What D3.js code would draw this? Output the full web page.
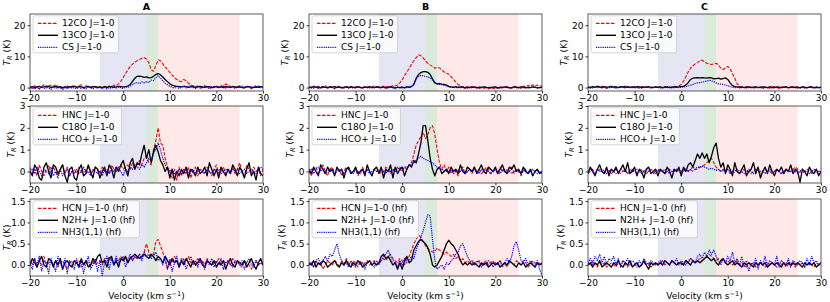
<!DOCTYPE html>
<html lang="en">
<head>
<meta charset="UTF-8">
<title>Spectra A B C</title>
<script src="https://d3js.org/d3.v7.min.js"></script>
<style>
  body { margin: 0; background: #fff; }
  svg { display: block; }
  svg text { font-family: "DejaVu Sans"; }
  .tick text { font-size: 9px; fill: #000; }
  .tick line { stroke: #000; stroke-width: 0.8; }
  .leg text { font-size: 9px; fill: #000; }
</style>
</head>
<body>
<svg id="chart" width="830" height="302"></svg>
<script>
// channel grid (km/s), 0.5 km/s spacing
const velocity = d3.range(-20, 30.25, 0.5);

const columns = ["A", "B", "C"];
const legendLabels = [
  ["12CO J=1-0", "13CO J=1-0", "CS J=1-0"],
  ["HNC J=1-0", "C18O J=1-0", "HCO+ J=1-0"],
  ["HCN J=1-0 (hf)", "N2H+ J=1-0 (hf)", "NH3(1,1) (hf)"]
];
const xTicks = [-20, -10, 0, 10, 20, 30];
const yTicks = [[0, 10, 20], [0, 1, 2, 3], [0, 0.5, 1, 1.5]];
const yDomains = [[-1.1, 23.6], [-0.53, 3.0], [-0.26, 1.55]];
const bands = [[-5, 5], [5, 7.5], [7.5, 25]];

// ---- column A ----
const a12co = [
  0.2,-0.3,0.6,0.1,-0.4,0.3,0.9,-0.2,0.5,0.8,
  0.4,1.0,-0.2,0.3,-0.5,0.2,0.6,-0.3,0.4,0.7,
  0.1,0.5,0.9,-0.2,0.6,0.3,-0.1,0.4,0.2,0.0,
  0.3,-0.2,0.4,0.1,0.5,0.2,0.8,0.6,1.2,2.0,
  3.2,4.5,5.6,6.8,7.5,8.2,8.6,9.0,9.4,9.6,
  9.2,8.0,5.8,5.2,7.0,8.9,8.6,7.6,6.6,5.8,
  4.9,4.0,3.2,2.6,2.1,1.9,2.6,2.2,1.4,0.8,
  0.6,0.3,0.5,-0.2,0.2,0.6,0.1,0.4,-0.3,0.2,
  0.5,0.0,0.7,0.3,1.1,0.9,0.2,0.5,-0.1,0.3,
  0.6,0.1,-0.3,0.4,0.2,-0.4,0.3,0.0,0.5,-0.2,
  0.1];
const a13co = [
  0.1,0.3,0.0,0.2,0.4,0.1,0.2,0.5,0.3,0.1,
  0.2,0.4,0.1,0.3,0.0,0.2,0.1,0.3,0.2,0.4,
  0.1,0.3,0.2,0.0,0.2,0.4,0.1,0.2,0.3,0.1,
  0.2,0.0,0.3,0.1,0.2,0.3,0.1,0.2,0.4,0.3,
  0.2,0.3,0.5,1.0,2.0,3.0,3.6,3.7,3.5,3.3,
  3.4,3.1,3.2,3.6,4.2,4.5,4.1,3.4,2.6,1.9,
  1.2,0.8,0.5,0.4,0.3,0.2,0.4,0.3,0.1,0.2,
  0.3,0.1,0.2,0.4,0.2,0.1,0.3,0.2,0.0,0.2,
  0.3,0.1,0.2,0.0,0.3,0.2,0.1,0.3,0.2,0.1,
  0.2,0.0,0.1,0.3,0.2,0.1,0.0,0.2,0.1,0.3,
  0.2];
const acs = [
  -0.2,0.3,-0.5,0.1,-0.4,0.2,-0.3,0.4,-0.1,-0.6,
  0.2,-0.3,0.5,-0.2,-0.6,0.1,-0.4,0.3,-0.2,0.0,
  -0.4,0.2,-0.3,0.1,-0.5,0.3,-0.1,-0.4,0.2,-0.2,
  0.1,-0.3,0.2,-0.4,0.0,-0.2,0.3,-0.1,0.2,0.0,
  -0.3,0.2,0.1,0.5,1.0,1.4,1.6,1.3,1.8,1.5,
  1.9,1.6,2.4,2.2,3.2,3.8,3.1,2.2,1.4,0.9,
  0.4,0.1,-0.2,0.3,-0.3,0.2,0.5,-0.1,0.3,0.6,
  0.1,-0.3,0.4,0.0,-0.2,0.5,0.2,-0.4,0.3,0.1,
  0.4,-0.1,0.2,0.5,-0.2,0.3,0.0,0.4,-0.3,0.2,
  0.1,0.5,-0.2,0.3,0.4,-0.1,0.2,0.6,0.0,0.3,
  0.1];
const ahnc = [
  0.2,-0.1,0.1,-0.2,0.3,0.0,-0.2,0.1,0.3,-0.1,
  0.2,0.0,-0.2,0.1,0.3,-0.1,0.2,-0.2,0.0,0.1,
  -0.1,0.2,0.0,-0.2,0.1,0.2,-0.1,0.0,0.2,0.1,
  -0.1,0.2,0.0,0.1,-0.1,0.3,0.1,0.0,0.2,0.3,
  0.1,0.2,0.3,0.1,0.4,0.2,0.3,0.5,0.3,0.6,
  0.7,0.4,0.3,1.0,1.4,2.0,1.3,1.2,0.6,0.2,
  0.0,-0.3,0.1,-0.4,0.2,-0.2,0.1,-0.1,0.2,-0.3,
  0.0,0.2,-0.2,0.1,0.0,-0.1,0.2,0.0,-0.2,0.1,
  0.3,-0.1,0.0,0.2,-0.1,0.1,0.0,0.2,-0.1,0.1,
  0.4,0.0,-0.2,0.3,0.1,-0.1,0.2,0.0,0.1,-0.2,
  0.1];
const ac18o = [
  0.0,-0.2,0.3,0.1,-0.3,-0.4,0.2,0.4,0.0,-0.3,
  0.3,0.2,-0.1,0.1,0.3,-0.2,-0.5,0.1,0.2,-0.3,
  -0.4,0.1,0.3,-0.2,-0.1,0.3,0.0,-0.3,0.2,0.1,
  -0.3,0.0,0.2,-0.2,0.3,0.1,-0.3,0.2,0.0,0.3,
  0.5,0.1,-0.2,0.4,0.6,0.1,0.4,0.3,0.8,1.2,
  0.6,1.0,0.4,0.9,1.2,0.9,0.5,0.3,0.0,0.2,
  -0.3,0.1,-0.4,0.0,-0.2,0.1,-0.1,0.2,-0.3,0.1,
  0.0,-0.2,0.2,-0.1,0.0,0.2,-0.2,0.4,0.1,-0.2,
  0.1,-0.3,0.2,0.0,-0.2,0.1,-0.1,0.3,0.1,-0.2,
  0.2,0.0,-0.3,0.1,0.4,-0.2,0.0,-0.4,0.2,-0.1,
  -0.2];
const ahcop = [
  0.0,0.1,-0.1,0.2,0.0,-0.2,0.1,0.0,-0.1,0.2,
  -0.2,0.0,-0.3,0.1,-0.2,0.0,0.1,-0.2,0.0,-0.1,
  0.1,-0.1,0.0,0.2,-0.1,0.0,-0.2,0.1,0.0,-0.1,
  0.0,-0.2,0.1,0.0,-0.1,0.1,0.0,0.2,0.1,0.0,
  -0.2,0.1,0.0,0.2,0.1,0.3,0.2,0.1,0.3,0.2,
  0.4,0.6,0.5,0.8,1.0,1.3,1.0,0.6,0.3,0.1,
  0.0,0.1,-0.1,0.0,0.1,-0.1,0.0,0.1,-0.1,0.0,
  0.1,-0.1,0.0,0.1,0.0,-0.1,0.1,0.0,-0.1,0.1,
  0.0,0.1,-0.1,0.0,0.1,0.0,-0.1,0.1,0.0,0.1,
  -0.1,0.0,0.1,-0.1,0.0,0.1,0.0,-0.1,0.1,0.2,
  0.1];
const ahcn = [
  0.1,0.0,0.15,-0.05,0.1,0.0,0.2,-0.05,0.05,0.1,
  0.0,0.1,-0.05,0.05,0.1,0.0,-0.1,0.05,0.1,0.0,
  0.05,0.1,-0.05,0.0,0.1,0.05,-0.05,0.1,0.0,0.05,
  0.1,0.0,0.15,0.05,0.2,0.1,0.05,0.15,0.1,0.2,
  0.1,0.15,0.05,0.2,0.1,0.2,0.15,0.25,0.2,0.3,
  0.5,0.3,0.2,0.25,0.55,0.6,0.45,0.3,0.1,-0.1,
  0.15,0.05,0.2,0.1,0.0,0.15,0.05,0.1,0.2,0.05,
  0.1,0.0,0.15,0.05,0.1,0.0,0.15,0.05,0.0,0.1,
  0.05,0.15,0.0,0.1,0.05,0.1,0.0,0.15,0.05,0.1,
  0.0,-0.05,0.1,0.05,0.0,-0.1,0.05,0.1,0.0,0.05,
  0.0];
const an2hp = [
  0.0,0.15,0.05,-0.05,0.1,0.2,0.0,-0.05,0.15,0.1,
  -0.05,0.1,0.0,0.15,-0.1,0.05,0.1,0.0,-0.05,0.1,
  0.05,-0.05,0.15,0.0,0.1,-0.05,0.0,0.15,0.05,0.2,
  0.25,0.05,0.1,-0.05,0.15,0.2,0.0,0.1,-0.05,0.15,
  0.1,0.2,0.05,0.15,0.2,0.25,0.2,0.15,0.2,0.25,
  0.2,0.15,0.25,0.2,0.1,0.2,0.15,0.05,0.2,0.1,
  0.0,0.15,0.05,0.1,-0.05,0.1,0.0,0.15,0.05,-0.05,
  0.1,0.0,0.05,0.15,0.0,-0.05,0.1,0.05,0.0,0.1,
  -0.05,0.05,0.0,0.1,-0.1,0.05,0.15,0.0,-0.05,0.1,
  0.05,0.0,0.1,-0.05,0.05,0.15,0.0,-0.1,0.05,0.15,
  0.0];
const anh3 = [
  0.05,-0.1,0.15,0.0,0.2,-0.15,0.1,0.05,-0.2,0.15,
  0.0,-0.15,0.2,0.05,-0.1,0.15,-0.2,0.1,0.0,-0.1,
  0.15,-0.05,0.1,-0.2,0.05,0.2,-0.1,0.0,0.15,-0.15,
  0.1,-0.25,0.05,0.2,-0.1,0.15,0.0,0.2,0.05,0.1,
  0.2,-0.05,0.15,0.25,0.1,0.2,0.15,0.25,0.1,0.3,
  0.2,0.25,0.15,0.2,0.3,0.1,0.15,0.0,0.2,-0.1,
  0.1,-0.15,0.05,0.2,-0.05,0.1,0.15,-0.1,0.05,0.2,
  0.0,0.1,-0.05,0.15,0.05,-0.1,0.1,0.0,0.15,-0.05,
  0.1,0.0,0.15,-0.1,0.05,0.1,0.0,-0.05,0.1,0.05,
  0.0,0.1,-0.1,0.05,0.15,0.0,-0.05,0.1,0.0,0.05,
  0.0];

// ---- column B ----
const b12co = [
  0.3,-0.2,0.5,0.1,-0.3,0.4,0.0,0.6,-0.1,0.3,
  0.2,-0.4,0.5,0.1,0.3,-0.2,0.4,0.0,0.3,-0.3,
  0.2,0.5,-0.1,0.3,0.0,0.4,-0.2,0.2,0.5,0.1,
  0.3,0.0,0.5,0.2,0.4,0.3,0.6,0.5,0.8,1.5,
  2.5,3.8,5.0,6.2,7.5,8.6,9.6,10.5,10.2,9.5,
  8.6,7.8,7.2,6.8,6.2,6.5,6.3,5.6,5.0,4.6,
  4.3,3.5,2.6,1.8,1.0,0.5,0.2,0.4,-0.2,0.1,
  0.3,-0.1,0.2,-0.3,0.1,-0.2,0.0,-0.4,0.2,-0.2,
  -0.5,0.1,-0.3,0.2,-0.1,0.3,0.0,-0.2,0.4,0.1,
  0.2,-0.3,0.5,0.2,0.7,0.3,0.9,0.5,0.8,0.4,
  0.6];
const b13co = [
  0.2,0.0,0.3,0.1,0.2,-0.1,0.3,0.1,0.0,0.2,
  0.1,0.3,0.0,0.2,-0.1,0.1,0.2,0.0,0.3,0.1,
  0.0,0.2,0.1,-0.1,0.2,0.0,0.3,0.1,0.0,0.2,
  0.1,0.0,0.2,-0.1,0.1,0.2,0.0,-0.2,0.1,0.0,
  0.1,-0.1,0.2,0.1,0.3,1.0,3.0,4.2,4.8,5.1,
  5.1,4.9,4.2,2.8,1.5,1.2,1.3,1.1,1.0,0.8,
  0.4,0.2,0.1,0.3,0.0,0.2,0.1,-0.1,0.2,0.0,
  0.1,0.2,-0.1,0.1,0.0,0.2,0.1,-0.1,0.0,0.1,
  0.2,-0.1,0.1,0.0,0.2,0.1,-0.1,0.0,0.2,0.1,
  0.0,0.2,0.1,-0.1,0.1,0.0,0.2,0.1,-0.1,0.0,
  0.1];
const bcs = [
  0.0,0.2,-0.2,0.1,0.3,-0.1,0.0,0.2,-0.2,0.1,
  0.0,-0.3,0.2,0.1,-0.1,0.0,0.2,-0.2,0.1,0.0,
  -0.1,0.1,0.0,-0.2,0.2,0.0,0.1,-0.1,0.0,0.2,
  -0.1,0.0,0.1,-0.2,0.0,0.1,0.2,0.0,0.1,0.0,
  0.2,0.1,0.0,0.3,0.4,1.2,2.8,3.6,3.9,3.8,
  3.6,3.4,3.1,2.4,1.6,1.2,1.0,0.9,0.7,0.5,
  0.2,0.0,0.1,-0.1,0.2,0.0,0.1,-0.2,0.0,0.1,
  0.0,0.1,-0.1,0.0,0.2,-0.1,0.0,0.1,-0.1,0.0,
  0.1,-0.2,0.0,0.1,-0.1,0.2,0.0,-0.1,0.1,0.0,
  -0.1,0.1,0.0,0.2,-0.1,0.0,0.1,0.2,-0.1,0.0,
  0.1];
const bhnc = [
  0.0,-0.2,0.1,0.2,-0.1,0.1,0.3,0.0,-0.2,0.1,
  0.2,-0.1,0.0,0.1,-0.2,0.0,0.2,0.1,-0.1,0.0,
  0.1,-0.2,0.0,0.2,-0.1,0.1,0.0,-0.2,0.1,0.0,
  0.1,-0.1,0.0,0.2,0.1,-0.1,0.1,0.0,0.2,0.1,
  0.0,0.2,0.1,0.3,0.4,0.8,1.2,1.4,1.6,1.8,
  1.5,1.7,2.0,2.1,1.7,1.0,0.4,0.1,0.3,0.0,
  0.2,-0.1,0.1,0.0,-0.2,0.1,0.2,-0.1,0.0,0.1,
  -0.1,0.2,0.0,0.1,-0.1,0.0,0.2,0.1,-0.1,0.0,
  0.1,-0.1,0.2,0.0,0.1,-0.1,0.0,0.2,-0.1,0.1,
  0.0,-0.2,0.1,0.0,-0.1,0.1,-0.2,0.0,0.1,-0.1,
  0.0];
const bc18o = [
  0.1,-0.1,0.2,0.0,-0.2,0.3,0.1,-0.1,0.2,0.0,
  0.1,-0.2,0.2,0.0,0.1,-0.3,0.1,0.2,-0.1,0.0,
  0.2,-0.1,0.0,0.1,-0.2,0.3,0.0,-0.2,0.1,0.2,
  -0.1,0.2,-0.3,0.1,0.0,0.3,-0.3,0.2,-0.1,0.1,
  0.2,-0.2,0.1,0.3,0.2,0.5,0.4,0.8,1.3,2.1,
  2.1,1.4,0.6,0.1,-0.2,0.1,0.2,-0.1,0.0,0.1,
  -0.1,0.2,0.0,0.1,-0.1,0.3,0.0,-0.1,0.2,0.1,
  0.0,0.2,-0.1,0.1,0.3,0.0,-0.1,0.2,0.1,0.0,
  0.2,-0.1,0.1,0.3,0.0,-0.1,0.2,0.1,0.3,0.0,
  0.1,-0.1,0.2,0.0,-0.1,0.1,-0.2,0.0,0.1,-0.1,
  0.0];
const bhcop = [
  0.0,0.1,-0.1,0.1,0.2,0.0,0.1,-0.1,0.0,0.1,
  0.0,-0.1,0.1,0.0,0.1,-0.1,0.0,0.1,0.0,-0.1,
  0.1,0.0,-0.1,0.1,0.0,0.1,-0.1,0.0,0.1,0.0,
  0.0,0.1,0.0,-0.1,0.1,0.0,0.1,0.0,0.1,0.2,
  0.1,0.2,0.2,0.3,0.3,0.4,0.5,0.6,0.7,0.6,
  0.55,0.5,0.45,0.4,0.3,0.2,0.1,0.1,0.0,0.1,
  0.0,0.1,-0.1,0.0,0.1,0.0,0.1,-0.1,0.0,0.1,
  0.0,0.1,0.0,-0.1,0.1,0.0,0.1,0.0,-0.1,0.0,
  0.1,0.0,-0.1,0.1,0.0,0.1,0.0,-0.1,0.0,0.1,
  0.0,-0.1,0.0,0.1,-0.1,0.0,0.1,0.0,-0.1,0.0,
  -0.1];
const bhcn = [
  0.0,0.05,-0.05,0.1,0.0,0.05,-0.1,0.0,0.1,0.05,
  0.0,0.1,0.05,-0.05,0.1,0.0,0.15,0.05,0.0,0.1,
  0.05,-0.05,0.1,0.0,0.05,0.1,0.0,0.05,0.1,0.0,
  0.05,0.1,0.15,0.1,0.2,0.25,0.15,0.1,0.05,0.15,
  0.1,0.0,0.15,0.2,0.35,0.5,0.6,0.7,0.65,0.55,
  0.45,0.38,0.35,0.3,0.32,0.4,0.35,0.3,0.25,0.3,
  0.25,0.2,0.25,0.15,0.2,0.1,0.15,0.05,0.1,0.05,
  0.1,0.0,0.05,0.1,0.0,0.05,0.1,0.0,0.05,0.1,
  0.0,0.05,0.1,0.0,0.05,-0.05,0.1,0.05,0.0,0.1,
  0.05,0.0,0.1,0.05,-0.05,0.0,0.1,0.05,0.0,0.05,
  0.0];
const bn2hp = [
  0.05,0.0,0.1,-0.05,0.05,0.0,0.1,0.05,-0.05,0.0,
  0.05,0.1,0.0,-0.05,0.05,0.0,0.1,0.0,-0.05,0.05,
  0.0,0.1,0.05,-0.05,0.0,0.05,0.1,0.0,0.05,0.0,
  0.05,0.2,0.25,0.15,0.2,0.1,0.0,0.05,-0.1,0.05,
  -0.1,0.1,0.2,0.05,0.1,0.35,0.45,0.55,0.6,0.55,
  0.5,0.4,0.25,0.0,-0.05,0.0,0.1,0.2,0.35,0.5,
  0.58,0.5,0.45,0.35,0.25,0.1,0.0,0.05,0.0,0.05,
  0.0,0.05,0.0,-0.05,0.05,0.0,0.05,-0.05,0.0,0.05,
  0.0,0.05,-0.05,0.0,0.05,0.0,0.1,0.05,0.0,-0.05,
  0.05,0.0,0.05,-0.05,0.0,0.05,0.0,-0.05,0.05,0.0,
  0.05];
const bnh3 = [
  0.0,0.05,-0.05,0.1,0.15,0.05,0.1,0.2,0.1,0.25,
  0.2,0.35,0.5,0.25,0.1,0.0,0.05,-0.05,0.1,0.0,
  -0.05,0.1,0.0,0.05,-0.1,0.05,0.1,0.0,-0.05,0.1,
  0.0,0.1,0.2,0.25,0.35,0.2,0.1,0.05,-0.05,0.1,
  0.0,0.15,0.05,0.1,0.2,0.15,0.35,0.5,0.65,0.8,
  1.0,1.18,1.15,0.6,0.1,-0.1,-0.05,0.0,-0.1,0.05,
  0.0,0.1,0.15,0.25,0.3,0.45,0.5,0.35,0.2,0.1,
  0.05,0.0,0.1,0.05,-0.05,0.05,0.0,0.1,0.05,-0.05,
  0.05,0.0,0.1,-0.05,0.05,0.15,0.05,0.2,0.45,0.55,
  0.35,0.1,0.05,0.15,0.0,0.1,0.05,-0.05,0.1,-0.1,
  -0.25];

// ---- column C ----
const c12co = [
  0.1,-0.2,0.3,0.0,0.5,-0.1,0.4,0.2,-0.3,0.3,
  0.0,0.4,0.2,-0.2,0.3,0.1,0.5,0.0,0.2,-0.1,
  0.3,0.1,-0.2,0.4,0.0,0.2,0.3,-0.1,0.1,0.2,
  0.0,0.2,-0.1,0.3,0.1,0.0,0.2,0.4,0.3,0.5,
  1.0,2.0,3.5,5.0,6.2,7.0,7.6,8.0,8.6,8.8,
  8.3,7.8,7.6,7.4,7.6,7.8,7.3,6.2,5.8,6.3,
  6.8,6.0,4.5,3.0,1.2,0.4,0.2,-0.1,0.3,0.1,
  0.2,-0.2,0.3,0.0,0.1,-0.3,0.2,0.0,-0.2,0.1,
  0.3,0.0,-0.2,0.2,0.1,0.3,-0.1,0.2,0.0,0.3,
  0.1,-0.2,0.2,0.0,-0.1,0.3,0.1,-0.2,0.2,0.0,
  0.1];
const c13co = [
  0.2,0.0,0.3,0.1,0.4,0.2,0.0,0.3,0.1,0.2,
  0.4,0.1,0.2,0.0,0.3,0.2,0.1,0.3,0.0,0.2,
  0.1,0.3,0.2,0.0,0.2,0.1,0.3,0.1,0.0,0.2,
  0.1,0.2,0.0,0.1,0.2,0.0,0.1,0.2,0.1,0.2,
  0.3,0.4,0.8,1.6,2.6,3.0,3.1,3.2,3.1,3.2,
  3.1,3.0,3.2,3.1,2.8,2.9,3.0,2.7,2.9,3.1,
  2.6,1.5,0.6,0.3,0.2,0.1,0.2,0.0,0.1,0.2,
  0.0,0.1,0.2,0.0,0.1,0.2,0.1,0.0,0.2,0.1,
  0.0,0.2,0.1,0.0,0.1,0.2,0.0,0.1,0.2,0.0,
  0.1,0.0,0.2,0.1,0.0,0.1,0.2,0.0,0.1,0.0,
  0.1];
const ccs = [
  0.0,0.2,-0.1,0.1,0.0,0.2,-0.2,0.1,0.0,-0.1,
  0.1,0.0,-0.2,0.1,0.2,0.0,-0.1,0.1,0.0,0.2,
  -0.1,0.0,0.1,-0.2,0.0,0.1,0.0,-0.1,0.2,0.0,
  0.1,-0.1,0.0,0.1,0.0,0.2,-0.1,0.0,0.1,0.0,
  0.1,0.2,0.3,0.5,0.8,1.0,1.3,1.5,1.6,1.7,
  1.9,2.1,2.3,2.2,1.9,1.5,1.2,1.1,1.0,0.8,
  0.6,0.3,0.1,0.0,0.1,-0.1,0.0,0.1,-0.1,0.0,
  0.1,0.0,-0.1,0.1,0.0,-0.2,0.1,0.0,0.1,-0.1,
  0.0,0.1,-0.1,0.0,0.2,0.0,-0.1,0.1,0.0,0.1,
  -0.1,0.0,0.1,-0.2,0.0,0.1,0.0,-0.1,0.1,0.0,
  0.0];
const chnc = [
  -0.1,0.0,0.1,-0.1,0.0,0.1,0.0,-0.1,0.1,0.0,
  -0.1,0.0,0.1,0.0,-0.1,0.0,0.1,-0.1,0.0,0.1,
  0.0,-0.1,0.0,0.1,0.0,-0.1,0.0,0.1,0.0,-0.1,
  0.0,0.1,0.0,-0.1,0.0,0.1,0.0,0.0,0.1,0.0,
  -0.1,0.0,0.1,0.0,0.1,0.0,0.1,0.1,0.2,0.2,
  0.3,0.4,0.5,0.6,0.4,0.2,0.1,0.0,0.1,0.0,
  0.1,-0.1,0.0,0.1,0.0,-0.1,0.0,0.1,0.0,0.0,
  -0.1,0.0,0.1,0.0,-0.1,0.0,0.1,0.0,0.0,-0.1,
  0.0,0.1,0.0,-0.1,0.0,0.1,0.0,0.0,0.1,0.2,
  0.1,0.0,-0.1,0.0,0.1,0.0,-0.1,0.0,0.1,0.0,
  0.0];
const cc18o = [
  -0.1,0.2,0.0,-0.2,0.1,0.3,0.0,-0.1,0.2,-0.2,
  0.1,0.0,0.2,-0.1,0.1,0.3,0.0,0.4,-0.1,0.0,
  0.2,-0.2,0.1,0.0,-0.3,0.1,0.2,-0.1,0.0,0.1,
  -0.2,0.1,0.0,-0.1,0.2,0.0,-0.3,0.1,0.0,0.2,
  -0.2,0.2,0.0,0.3,0.4,0.2,0.5,0.8,0.6,0.85,
  0.6,0.8,0.4,0.7,1.1,1.3,0.6,0.2,0.4,-0.1,
  0.3,0.1,-0.2,0.4,0.0,-0.1,0.1,0.3,-0.2,0.0,
  0.1,0.4,-0.1,0.2,-0.3,0.0,0.2,-0.1,0.3,0.0,
  -0.2,0.1,0.0,0.2,-0.1,0.1,0.0,0.3,-0.1,0.1,
  0.0,-0.5,0.1,0.0,-0.2,0.2,0.0,-0.1,0.1,-0.2,
  0.0];
const chcop = [
  0.0,0.1,0.0,-0.1,0.1,0.0,0.1,0.0,-0.1,0.0,
  0.1,0.0,-0.1,0.0,0.1,0.0,0.0,-0.1,0.1,0.0,
  0.0,0.1,0.0,-0.1,0.0,0.1,0.0,0.0,-0.1,0.0,
  0.1,0.0,0.0,0.1,0.0,-0.1,0.0,0.1,0.0,0.1,
  0.0,0.1,0.1,0.0,0.1,0.2,0.1,0.2,0.2,0.25,
  0.2,0.15,0.1,0.15,0.1,0.05,0.1,0.0,0.05,0.0,
  0.1,0.0,-0.1,0.0,0.1,0.0,0.0,-0.1,0.0,0.1,
  0.0,-0.1,0.0,0.1,0.0,0.0,-0.1,0.0,0.1,0.0,
  0.0,0.1,0.0,-0.1,0.0,0.1,0.0,0.0,0.1,0.0,
  -0.1,0.0,0.1,0.0,0.0,-0.1,0.0,0.1,0.0,-0.1,
  0.0];
const chcn = [
  0.05,0.0,0.1,0.0,-0.05,0.05,0.0,0.05,-0.05,0.0,
  0.05,0.0,-0.05,0.05,0.0,0.1,0.0,-0.05,0.05,0.0,
  0.0,0.05,-0.05,0.0,0.05,0.0,0.05,-0.05,0.0,0.05,
  0.0,0.05,0.1,0.0,0.05,0.0,0.1,0.05,0.0,0.05,
  0.0,0.05,0.1,0.05,0.15,0.1,0.05,0.1,0.15,0.1,
  0.15,0.2,0.25,0.2,0.15,0.1,0.15,0.1,0.1,0.05,
  0.1,0.05,0.0,0.05,0.1,0.0,0.05,0.0,-0.05,0.05,
  0.0,0.05,-0.05,0.0,0.05,0.0,-0.05,0.05,0.0,0.05,
  0.0,-0.05,0.05,0.0,0.05,-0.05,0.0,0.05,0.0,-0.05,
  0.05,0.0,0.05,-0.05,0.0,0.05,0.0,-0.05,0.05,0.0,
  0.0];
const cn2hp = [
  0.0,0.05,-0.05,0.05,0.0,0.1,-0.05,0.0,0.05,0.0,
  -0.05,0.05,0.0,0.1,0.0,-0.05,0.05,0.0,0.1,-0.05,
  0.0,0.05,-0.05,0.0,0.1,0.0,-0.1,0.05,0.0,0.05,
  0.0,0.05,0.0,0.1,0.05,0.0,0.1,0.05,0.0,0.05,
  0.05,0.0,0.1,0.05,0.0,0.1,0.05,0.1,0.05,0.1,
  0.15,0.2,0.15,0.1,0.15,0.05,0.0,0.1,0.15,0.05,
  0.0,0.05,0.1,0.0,0.05,0.0,-0.05,0.05,0.0,0.05,
  0.0,-0.05,0.05,0.0,0.05,0.0,0.05,-0.05,0.0,0.05,
  0.0,0.05,0.0,-0.05,0.05,0.0,0.05,0.0,0.05,0.0,
  0.05,0.0,-0.05,0.05,0.0,0.05,0.0,0.05,-0.05,0.0,
  0.05];
const cnh3 = [
  0.05,0.15,0.0,0.2,0.1,0.25,0.05,0.2,0.0,0.15,
  0.1,0.2,0.0,0.15,-0.05,0.1,0.05,0.15,0.0,0.1,
  0.05,-0.05,0.1,0.0,0.15,0.05,0.0,0.1,0.05,0.0,
  0.05,0.1,0.0,0.1,0.05,0.0,0.1,0.05,0.15,0.0,
  0.1,0.05,0.0,0.1,0.15,0.1,0.05,0.2,0.25,0.15,
  0.3,0.2,0.35,0.25,0.35,0.2,0.1,0.0,0.15,0.05,
  0.2,0.1,0.3,0.05,0.15,0.0,0.2,-0.05,0.1,-0.15,
  0.05,0.0,0.15,-0.1,0.1,0.0,0.2,-0.05,0.1,0.05,
  0.0,0.2,-0.05,0.1,0.05,0.0,0.15,-0.05,0.1,0.05,
  0.0,0.1,0.05,-0.05,0.15,0.0,0.2,0.05,0.1,0.0,
  0.05];

const spectra = {
  A: [[a12co, a13co, acs], [ahnc, ac18o, ahcop], [ahcn, an2hp, anh3]],
  B: [[b12co, b13co, bcs], [bhnc, bc18o, bhcop], [bhcn, bn2hp, bnh3]],
  C: [[c12co, c13co, ccs], [chnc, cc18o, chcop], [chcn, cn2hp, cnh3]]
};

// layout
const lefts = [30, 309, 588];
const tops = [14, 106, 199];
const pw = 233, ph = 77;
const lineStyles = [
  { color: "red", dash: "3.5,1.5", width: 1.1 },
  { color: "black", dash: null, width: 1.3 },
  { color: "blue", dash: "1.2,1", width: 1.2 }
];
const bandColors = ["rgba(0,0,139,0.1)", "rgba(0,110,0,0.14)", "rgba(255,0,0,0.09)"];

const svg = d3.select("#chart");

columns.forEach((col, ci) => {
  const x0 = lefts[ci];
  svg.append("text")
    .attr("x", x0 + pw / 2).attr("y", 10)
    .attr("text-anchor", "middle")
    .attr("font-size", 9.5).attr("font-weight", "bold")
    .text(col);

  [0, 1, 2].forEach(ri => {
    const y0 = tops[ri];
    const x = d3.scaleLinear().domain([-20, 30]).range([x0, x0 + pw]);
    const y = d3.scaleLinear().domain(yDomains[ri]).range([y0 + ph, y0]);
    const g = svg.append("g");
    const clipId = "clip-" + ci + "-" + ri;

    g.append("clipPath").attr("id", clipId)
      .append("rect").attr("x", x0).attr("y", y0).attr("width", pw).attr("height", ph);

    g.selectAll("rect.band")
      .data(bands)
      .enter().append("rect")
      .attr("class", "band")
      .attr("x", d => x(d[0]))
      .attr("width", d => x(d[1]) - x(d[0]))
      .attr("y", y0).attr("height", ph)
      .attr("fill", (d, i) => bandColors[i]);

    const line = d3.line().x((d, i) => x(velocity[i])).y(d => y(d));
    const plot = g.append("g").attr("clip-path", "url(#" + clipId + ")");
    spectra[col][ri].forEach((s, si) => {
      const st = lineStyles[si];
      plot.append("path")
        .datum(s)
        .attr("d", line)
        .attr("fill", "none")
        .attr("stroke", st.color)
        .attr("stroke-width", st.width)
        .attr("stroke-dasharray", st.dash)
        .attr("stroke-linejoin", "round");
    });

    const xAxis = g.append("g")
      .attr("transform", "translate(0," + (y0 + ph) + ")")
      .call(d3.axisBottom(x).tickValues(xTicks).tickSize(2.5).tickPadding(1.2).tickFormat(d3.format("d")));
    xAxis.select(".domain").remove();

    const yAxis = g.append("g")
      .attr("transform", "translate(" + x0 + ",0)")
      .call(d3.axisLeft(y).tickValues(yTicks[ri]).tickSize(2.5).tickPadding(2)
        .tickFormat(ri === 2 ? d3.format(".1f") : d3.format("d")));
    yAxis.select(".domain").remove();
    xAxis.attr("font-family", null).attr("font-size", null);
    yAxis.attr("font-family", null).attr("font-size", null);

    g.append("rect")
      .attr("x", x0).attr("y", y0).attr("width", pw).attr("height", ph)
      .attr("fill", "none").attr("stroke", "#333").attr("stroke-width", 0.8);

    // y label sits just left of the tick labels, kept inside the page
    const labelX = Math.max(9.5, yAxis.node().getBBox().x + x0 - 5.5);
    const yl = g.append("text")
      .attr("transform", "translate(" + labelX + "," + (y0 + ph / 2) + ") rotate(-90)")
      .attr("text-anchor", "middle")
      .attr("font-size", 9);
    yl.append("tspan").attr("font-style", "italic").text("T");
    yl.append("tspan").attr("font-style", "italic").attr("font-size", 6.5).attr("dy", 2).text("R");
    yl.append("tspan").attr("dy", -2).text(" (K)");

    // legend
    const leg = g.append("g").attr("class", "leg")
      .attr("transform", "translate(" + (x0 + 3) + "," + (y0 + 1.8) + ")");
    const box = leg.append("rect")
      .attr("rx", 2).attr("ry", 2)
      .attr("fill", "rgba(255,255,255,0.8)")
      .attr("stroke", "#ccc").attr("stroke-width", 0.8)
      .attr("height", 37);
    let maxW = 0;
    legendLabels[ri].forEach((lab, li) => {
      const st = lineStyles[li];
      const ly = 7.5 + li * 12;
      leg.append("line")
        .attr("x1", 5).attr("x2", 25).attr("y1", ly).attr("y2", ly)
        .attr("stroke", st.color).attr("stroke-width", st.width + 0.1)
        .attr("stroke-dasharray", st.dash);
      const t = leg.append("text").attr("x", 29).attr("y", ly).attr("dy", "0.35em").text(lab);
      maxW = Math.max(maxW, t.node().getComputedTextLength());
    });
    box.attr("width", 29 + maxW + 4);
  });

  const vl = svg.append("text")
    .attr("x", x0 + pw / 2).attr("y", 299)
    .attr("text-anchor", "middle")
    .attr("font-size", 9);
  vl.append("tspan").text("Velocity (km s");
  vl.append("tspan").attr("font-size", 6.5).attr("dy", -3.5).text("\u22121");
  vl.append("tspan").attr("dy", 3.5).text(")");
});
</script>
</body>
</html>
